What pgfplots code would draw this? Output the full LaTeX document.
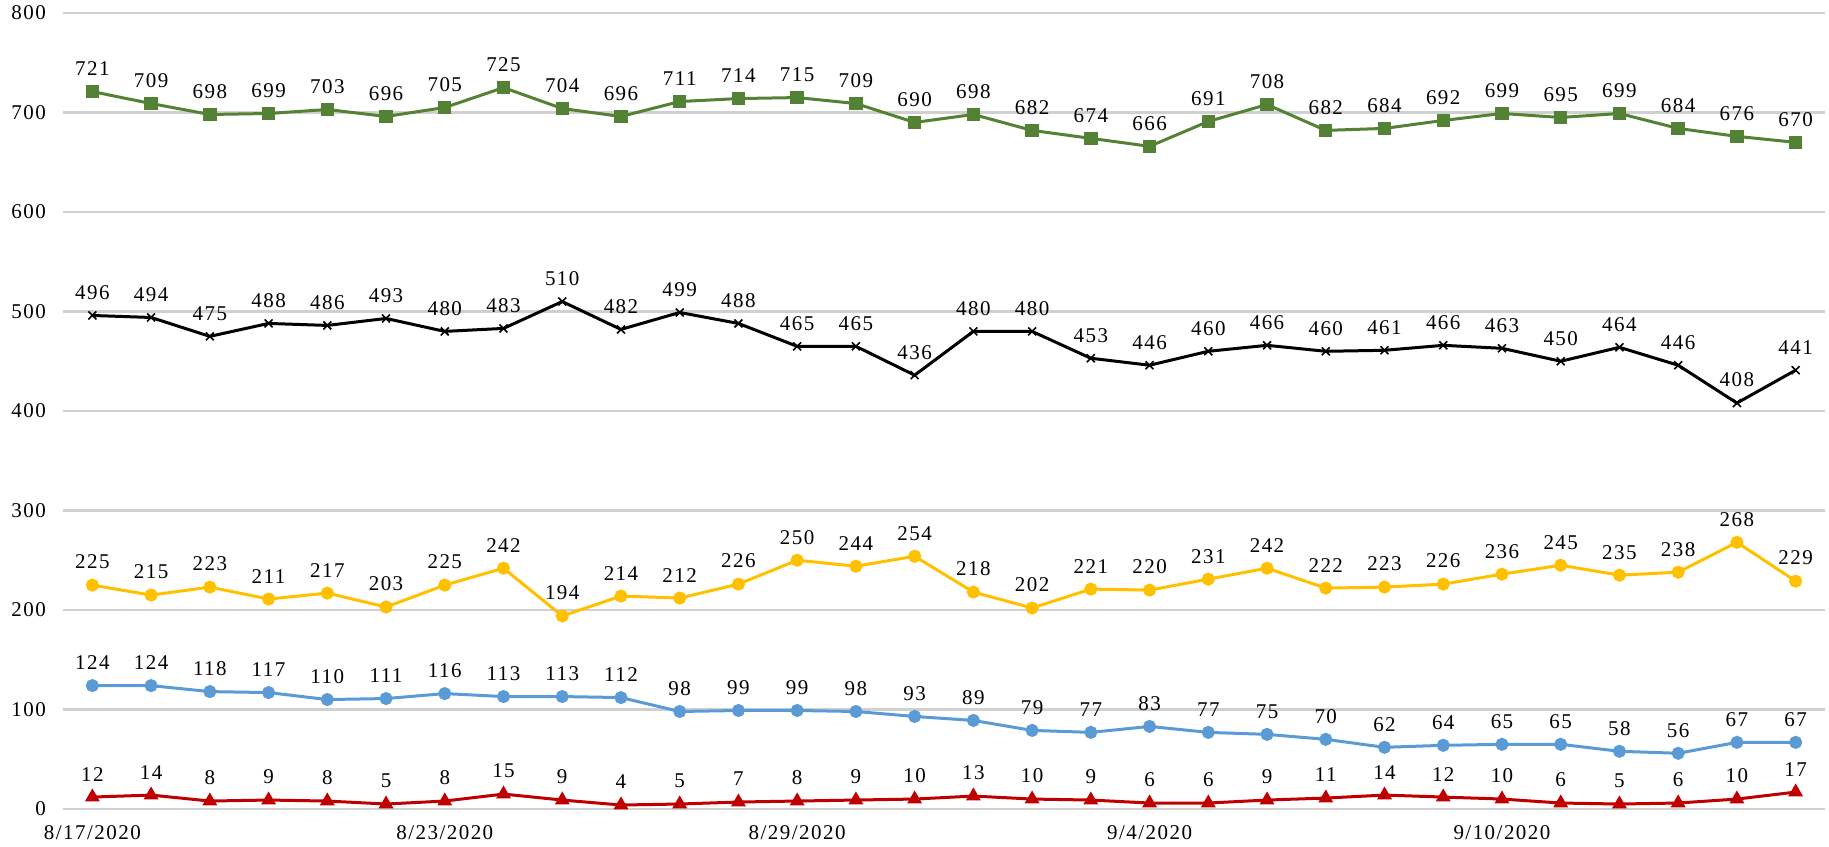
\documentclass[border=0pt]{standalone}
\usepackage{fontspec}
\setmainfont{Liberation Serif}[LetterSpace=7]
\usepackage{pgfplots}
\usepackage{pgfplotstable}
\pgfplotsset{compat=1.18}

\definecolor{cgreen}{HTML}{548235}
\definecolor{cyellow}{HTML}{FFC000}
\definecolor{cblue}{HTML}{5B9BD5}
\definecolor{cred}{HTML}{C00000}
\definecolor{cgrid}{HTML}{D0D0D0}

% day index, then one column per series
\pgfplotstableread{
x g k y b r
0 721 496 225 124 12
1 709 494 215 124 14
2 698 475 223 118 8
3 699 488 211 117 9
4 703 486 217 110 8
5 696 493 203 111 5
6 705 480 225 116 8
7 725 483 242 113 15
8 704 510 194 113 9
9 696 482 214 112 4
10 711 499 212 98 5
11 714 488 226 99 7
12 715 465 250 99 8
13 709 465 244 98 9
14 690 436 254 93 10
15 698 480 218 89 13
16 682 480 202 79 10
17 674 453 221 77 9
18 666 446 220 83 6
19 691 460 231 77 6
20 708 466 242 75 9
21 682 460 222 70 11
22 684 461 223 62 14
23 692 466 226 64 12
24 699 463 236 65 10
25 695 450 245 65 6
26 699 464 235 58 5
27 684 446 238 56 6
28 676 408 268 67 10
29 670 441 229 67 17
}\data

\begin{document}
\begin{tikzpicture}
\useasboundingbox (-31.5pt,-18.5pt) rectangle (883pt,404.5pt);
\begin{axis}[
    at={(0,0)}, anchor=south west,
    scale only axis,
    width=881pt, height=398pt,
    xmin=-0.5, xmax=29.5,
    ymin=0, ymax=800,
    ytick={0,100,...,800},
    xtick={0,6,12,18,24},
    xticklabels={8/17/2020,8/23/2020,8/29/2020,9/4/2020,9/10/2020},
    axis line style={draw=none},
    major tick length=0pt,
    ymajorgrids=true,
    grid style={cgrid, line width=1.1pt},
    tick label style={font=\fontsize{10.5}{12}\selectfont},
    yticklabel style={xshift=-5pt},
    xticklabel style={yshift=-4.7pt},
    /pgf/number format/assume math mode=true,
    clip=false,
    nodes near coords,
    nodes near coords style={font=\fontsize{10.5}{12}\selectfont, black, anchor=center, yshift=11.5pt},
    every axis plot/.append style={line width=1.5pt},
]
\addplot[cgreen, mark=square*, mark size=2.6pt] table[x=x, y=g] {\data};
\addplot[black, mark=x, mark size=2.8pt, mark options={line width=0.8pt}] table[x=x, y=k] {\data};
\addplot[cyellow, mark=*, mark size=2.5pt] table[x=x, y=y] {\data};
\addplot[cblue, mark=*, mark size=2.5pt] table[x=x, y=b] {\data};
\addplot[cred, mark=triangle*, mark size=2.8pt] table[x=x, y=r] {\data};
\end{axis}
\end{tikzpicture}
\end{document}
